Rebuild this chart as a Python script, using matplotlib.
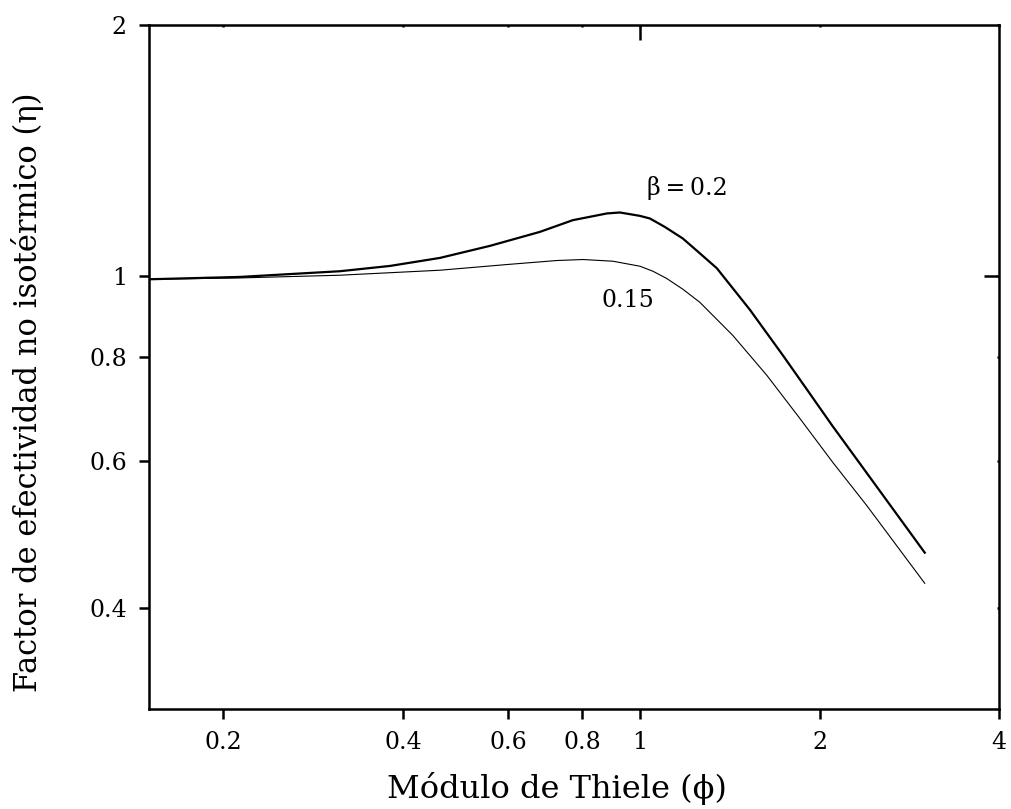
import matplotlib.pyplot as plt
from matplotlib.ticker import FixedLocator, NullLocator

# Thiele modulus and non-isothermal effectiveness factor, beta = 0.2
phi_02 = [0.1506, 0.2132, 0.3136, 0.3805, 0.4614, 0.5596, 0.6788, 0.7711, 0.8795,
          0.9248, 0.9992, 1.0385, 1.100, 1.1794, 1.2593, 1.3449, 1.5275, 1.735,
          1.9038, 2.1046, 2.336, 3.0026]
eta_02 = [0.9917, 0.9981, 1.0139, 1.0288, 1.0518, 1.0873, 1.1301, 1.1673, 1.1891,
          1.1923, 1.1812, 1.1727, 1.1458, 1.1097, 1.0654, 1.0223, 0.9120, 0.8043,
          0.7320, 0.6609, 0.5967, 0.4664]

# beta = 0.15
phi_015 = [0.1506, 0.2132, 0.3136, 0.4614, 0.5978, 0.7249, 0.8015, 0.9001, 0.9992,
           1.0506, 1.1084, 1.1794, 1.2593, 1.4304, 1.6311, 1.8531, 2.1046, 2.3998, 3.0026]
eta_015 = [0.9917, 0.9953, 1.0028, 1.0167, 1.0328, 1.0443, 1.0472, 1.0423, 1.0280,
           1.0139, 0.9937, 0.9648, 0.9307, 0.8494, 0.7609, 0.6756, 0.5984, 0.5312, 0.4286]

x_ticks = [0.2, 0.4, 0.6, 0.8, 1, 2, 4]
x_labels = ['0.2', '0.4', '0.6', '0.8', '1', '2', '4']
y_ticks = [0.4, 0.6, 0.8, 1, 2]
y_labels = ['0.4', '0.6', '0.8', '1', '2']

plt.rcParams['font.family'] = ['DejaVu Serif']

fig = plt.figure(figsize=(10.11, 8.09), dpi=100)
ax = fig.add_axes([149 / 1011, 100 / 809, 850 / 1011, 684 / 809])

ax.plot(phi_02, eta_02, color='black', lw=1.6, solid_joinstyle='round')
ax.plot(phi_015, eta_015, color='black', lw=0.8, solid_joinstyle='round')

ax.set_xscale('log')
ax.set_yscale('log')
ax.set_xlim(0.15, 4)
ax.set_ylim(0.303, 2)

ax.xaxis.set_major_locator(FixedLocator(x_ticks))
ax.xaxis.set_minor_locator(NullLocator())
ax.set_xticklabels(x_labels)
ax.yaxis.set_major_locator(FixedLocator(y_ticks))
ax.yaxis.set_minor_locator(NullLocator())
ax.set_yticklabels(y_labels)

for s in ax.spines.values():
    s.set_linewidth(1.8)

ax.tick_params(axis='both', which='major', direction='out', length=7, width=1.8,
               labelsize=17, pad=9)


def inner_ticks(side, ticks, length):
    # extra axis carrying short inward ticks on top / right
    if side == 'top':
        sec = ax.secondary_xaxis('top')
        axis = sec.xaxis
    else:
        sec = ax.secondary_yaxis('right')
        axis = sec.yaxis
    axis.set_major_locator(FixedLocator(ticks))
    axis.set_minor_locator(NullLocator())
    sec.tick_params(which='both', direction='in', length=length, width=1.8,
                    labelleft=False, labelright=False, labeltop=False, labelbottom=False)
    for s in sec.spines.values():
        s.set_visible(False)


inner_ticks('top', x_ticks, 1.5)
inner_ticks('right', y_ticks, 1.5)
inner_ticks('top', [1], 11)
inner_ticks('right', [1], 11)

ax.set_xlabel('Módulo de Thiele (ϕ)', fontsize=23)
ax.set_ylabel('Factor de efectividad no isotérmico (η)', fontsize=22)
ax.xaxis.set_label_coords(0.48, -0.092)
ax.yaxis.set_label_coords(-0.124, 0.463)

ax.text(1.026, 1.2755, 'β\u2009=\u20090.2', fontsize=17, va='center', ha='left')
ax.text(0.8627, 0.936, '0.15', fontsize=17, va='center', ha='left')

fig.savefig('out.png', dpi=100, facecolor='white')
